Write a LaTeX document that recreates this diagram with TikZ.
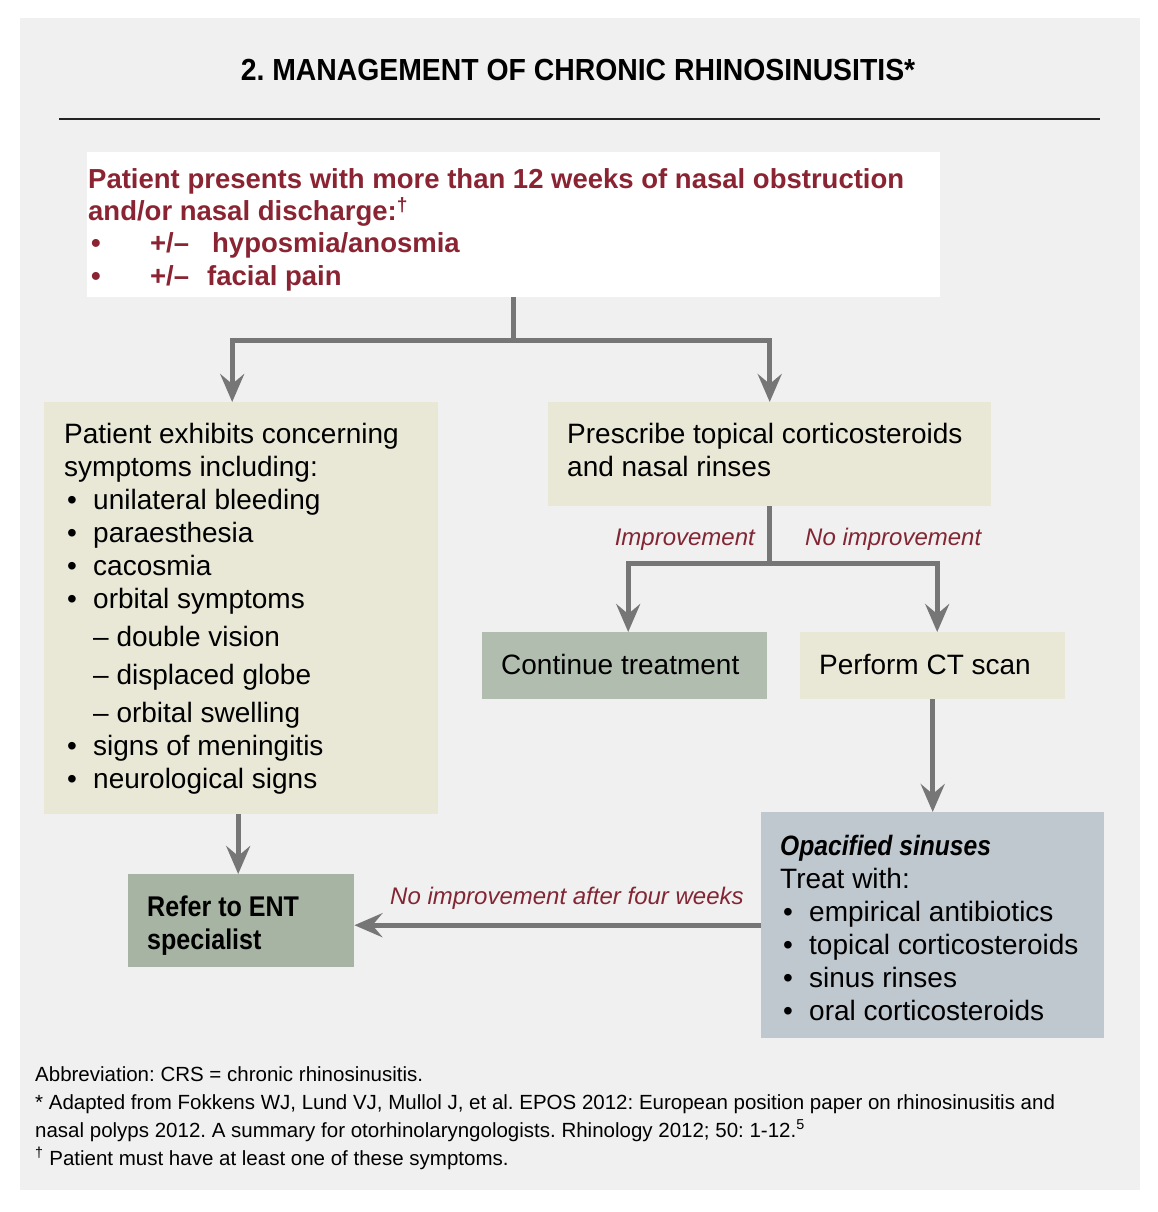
\documentclass[tikz,border=0pt]{standalone}
\usepackage{fontspec}
\setmainfont{Liberation Sans}
\newfontfamily\headfont{Liberation Sans}[FakeStretch=0.93]
\newfontfamily\demifont{Liberation Sans}[FakeStretch=0.88]
\usetikzlibrary{arrows.meta}
\frenchspacing

\definecolor{panelgrey}{RGB}{240,240,240}
\definecolor{rulegrey}{RGB}{35,35,35}
\definecolor{beige}{RGB}{233,231,213}
\definecolor{contgreen}{RGB}{177,189,174}
\definecolor{refergreen}{RGB}{167,180,164}
\definecolor{opacblue}{RGB}{191,199,207}
\definecolor{arrowgrey}{RGB}{118,118,118}
\definecolor{titlered}{RGB}{138,36,50}
\definecolor{labelred}{RGB}{130,38,52}

\tikzset{
  box/.style={draw=none, inner sep=0pt, anchor=north west},
  txt/.style={anchor=base west, inner sep=0pt, font=\fontsize{28}{33}\selectfont},
  lbl/.style={inner sep=0pt, text=labelred, font=\itshape\fontsize{24}{28}\selectfont},
  conn/.style={line width=5pt, draw=arrowgrey, -{Stealth[length=28pt,width=24pt,inset=10pt]}}
}
\newcommand{\bul}{\makebox[29pt][l]{\hspace{3pt}•}}

\begin{document}
\begin{tikzpicture}[x=1pt,y=-1pt]
\useasboundingbox (0,0) rectangle (1158,1212);
\fill[white] (0,0) rectangle (1158,1212);
\fill[panelgrey] (20,18) rectangle (1140,1190);

% title and rule
\node[anchor=base, inner sep=0pt] (title) at (578,81) {\headfont\bfseries\fontsize{30.5}{36}\selectfont 2. MANAGEMENT OF CHRONIC RHINOSINUSITIS*};
\coordinate (ruleL) at (59,119);
\coordinate (ruleR) at (1100,119);
\draw[line width=2pt, rulegrey] (ruleL) -- (ruleR);

% boxes
\node[box, fill=white, minimum width=853pt, minimum height=145pt] (present) at (87,152) {};
\node[box, fill=beige, minimum width=394pt, minimum height=412pt] (concern) at (44,402) {};
\node[box, fill=beige, minimum width=443pt, minimum height=104pt] (prescribe) at (548,402) {};
\node[box, fill=contgreen, minimum width=285pt, minimum height=67pt] (continue) at (482,632) {};
\node[box, fill=beige, minimum width=265pt, minimum height=67pt] (ctscan) at (800,632) {};
\node[box, fill=opacblue, minimum width=343pt, minimum height=226pt] (opac) at (761,812) {};
\node[box, fill=refergreen, minimum width=226pt, minimum height=93pt] (refer) at (128,874) {};

% box texts
\node[txt, text=titlered, font=\bfseries\fontsize{27.5}{32.3}\selectfont] (presenttxt) at (88,188) {\begin{tabular}[t]{@{}l@{}}
Patient presents with more than 12 weeks of nasal obstruction\\
and/or nasal discharge:\textsuperscript{†}\\
\makebox[62pt][l]{\hspace{3pt}•}+/–\hspace{23pt}hyposmia/anosmia\\
\makebox[62pt][l]{\hspace{3pt}•}+/–\hspace{18pt}facial pain
\end{tabular}};

\node[txt] (concerntxt) at (64,443) {\begin{tabular}[t]{@{}l@{}}
Patient exhibits concerning\\
symptoms including:\\
\bul unilateral bleeding\\
\bul paraesthesia\\
\bul cacosmia\\
\bul orbital symptoms\\[5pt]
\hspace{29pt}– double vision\\[5pt]
\hspace{29pt}– displaced globe\\[5pt]
\hspace{29pt}– orbital swelling\\
\bul signs of meningitis\\
\bul neurological signs
\end{tabular}};

\node[txt] (prescribetxt) at (567,443) {\begin{tabular}[t]{@{}l@{}}
Prescribe topical corticosteroids\\
and nasal rinses
\end{tabular}};

\node[txt] (continuetxt) at (501,674) {Continue treatment};
\node[txt] (ctscantxt) at (819,674) {Perform CT scan};

\node[txt] (opactxt) at (780,855) {\begin{tabular}[t]{@{}l@{}}
{\demifont\bfseries\itshape Opacified sinuses}\\
Treat with:\\
\bul empirical antibiotics\\
\bul topical corticosteroids\\
\bul sinus rinses\\
\bul oral corticosteroids
\end{tabular}};

\node[txt, font=\demifont\bfseries\fontsize{28.5}{33}\selectfont] (refertxt) at (147,916) {\begin{tabular}[t]{@{}l@{}}
Refer to ENT\\
specialist
\end{tabular}};

% connectors
\draw[conn] (present.south) -- ++(0,43) -| ([xshift=-9pt]concern.north);
\draw[conn] (present.south) -- ++(0,43) -| (prescribe.north);
\draw[conn] (prescribe.south) -- ++(0,57) -| ([xshift=3.5pt]continue.north);
\draw[conn] (prescribe.south) -- ++(0,57) -| ([xshift=4.5pt]ctscan.north);
\draw[conn] (ctscan.south) -- (opac.north);
\draw[conn] ([xshift=-3pt]concern.south) -- ([xshift=-3pt]refer.north);
\draw[conn] (opac.west) -- (refer.east |- opac.west);

% connector labels
\node[lbl, anchor=base east] (improve) at (755,545) {Improvement};
\node[lbl, anchor=base west] (noimprove) at (805,545) {No improvement};
\node[lbl, anchor=base west] (fourweeks) at (390,904) {No improvement after four weeks};

% footnotes
\node[txt, font=\fontsize{20.5}{28}\selectfont] (notes) at (35,1081) {\begin{tabular}[t]{@{}l@{}}
Abbreviation: CRS = chronic rhinosinusitis.\\
\relax* Adapted from Fokkens WJ, Lund VJ, Mullol J, et al. EPOS 2012: European position paper on rhinosinusitis and\\
nasal polyps 2012. A summary for otorhinolaryngologists. Rhinology 2012; 50: 1-12.\textsuperscript{5}\\
\textsuperscript{†} Patient must have at least one of these symptoms.
\end{tabular}};

\end{tikzpicture}
\end{document}
